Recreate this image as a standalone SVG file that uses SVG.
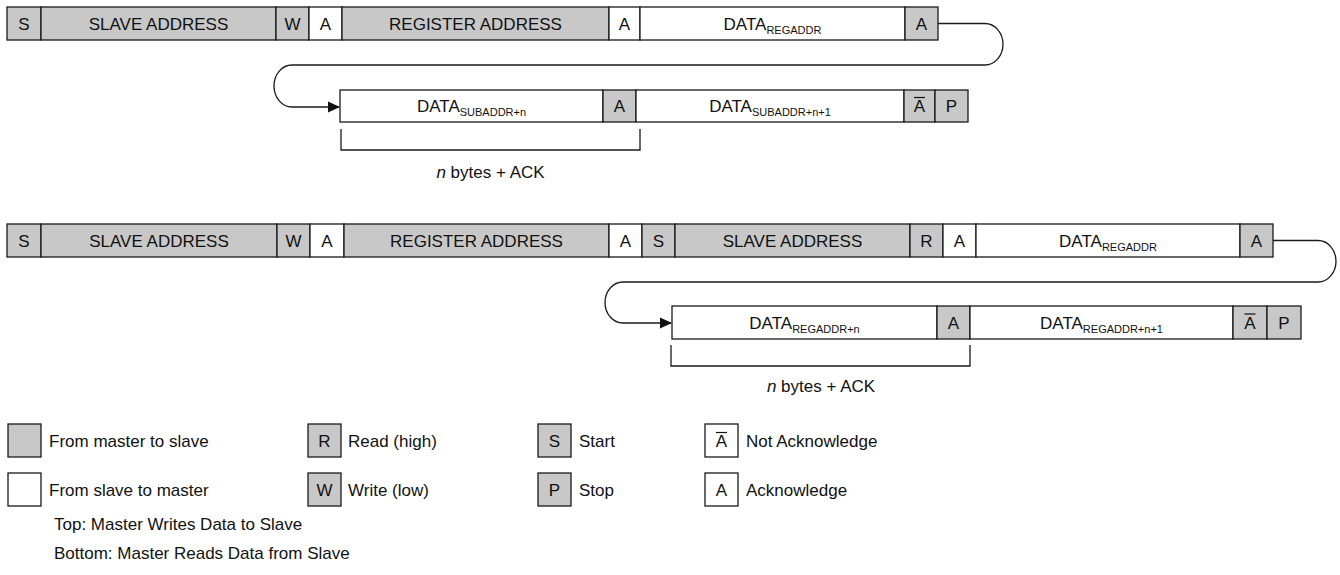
<svg xmlns="http://www.w3.org/2000/svg" width="1340" height="575" viewBox="0 0 1340 575">
<style>
.g{fill:#c8c8c8;stroke:#1a1a1a;stroke-width:1.3}
.w{fill:#ffffff;stroke:#1a1a1a;stroke-width:1.3}
text{font-family:"Liberation Sans",Arial,sans-serif;font-size:17px;fill:#111}
.c{text-anchor:middle}
.sub{font-size:11px}
.ln{fill:none;stroke:#1a1a1a;stroke-width:1.3}
.ov{stroke:#111;stroke-width:1.2}
</style>
<defs>
<marker id="arr" markerWidth="12" markerHeight="12" refX="11" refY="6" orient="auto" markerUnits="userSpaceOnUse">
<path d="M0,0.5 L12,6 L0,11.5 Z" fill="#111"/>
</marker>
</defs>

<g id="connectors">
<path class="ln" d="M938,23.5 H985 A18,20.75 0 0 1 985,65 H292 A18,21 0 0 0 292,107 H339" marker-end="url(#arr)"/>
<path class="ln" d="M1273,240.5 H1318 A18,20.75 0 0 1 1318,282 H623 A18,20.5 0 0 0 623,323 H671" marker-end="url(#arr)"/>
<path class="ln" d="M341,129 V150 H640 V129"/>
<path class="ln" d="M671,345 V366 H970 V345"/>
</g>

<g id="top-row">
<g id="t-s"><rect class="g" x="7" y="7" width="34" height="33"/><text class="c" x="24" y="29.5">S</text></g>
<g id="t-slave"><rect class="g" x="41" y="7" width="235" height="33"/><text class="c" x="158.5" y="29.5">SLAVE ADDRESS</text></g>
<g id="t-w"><rect class="g" x="276" y="7" width="33" height="33"/><text class="c" x="292.5" y="29.5">W</text></g>
<g id="t-a1"><rect class="w" x="309" y="7" width="33" height="33"/><text class="c" x="325.5" y="29.5">A</text></g>
<g id="t-reg"><rect class="g" x="342" y="7" width="267" height="33"/><text class="c" x="475.5" y="29.5">REGISTER ADDRESS</text></g>
<g id="t-a2"><rect class="w" x="609" y="7" width="31" height="33"/><text class="c" x="624.5" y="29.5">A</text></g>
<g id="t-data"><rect class="w" x="640" y="7" width="265" height="33"/><text class="c" x="772.5" y="29.5">DATA<tspan class="sub" dy="4">REGADDR</tspan></text></g>
<g id="t-a3"><rect class="g" x="905" y="7" width="33" height="33"/><text class="c" x="921.5" y="29.5">A</text></g>
</g>

<g id="top-row2">
<g id="t-datan"><rect class="w" x="340" y="90" width="263" height="32"/><text class="c" x="471.5" y="112">DATA<tspan class="sub" dy="4">SUBADDR+n</tspan></text></g>
<g id="t-a4"><rect class="g" x="603" y="90" width="33" height="32"/><text class="c" x="619.5" y="112">A</text></g>
<g id="t-datan1"><rect class="w" x="636" y="90" width="268" height="32"/><text class="c" x="770" y="112">DATA<tspan class="sub" dy="4">SUBADDR+n+1</tspan></text></g>
<g id="t-nack"><rect class="g" x="904" y="90" width="31" height="32"/><text class="c" x="919.5" y="112">A</text><line class="ov" x1="914" y1="97.5" x2="925" y2="97.5"/></g>
<g id="t-p"><rect class="g" x="935" y="90" width="33" height="32"/><text class="c" x="951.5" y="112">P</text></g>
<g id="t-bytes"><text class="c" x="490.5" y="178"><tspan font-style="italic">n</tspan> bytes + ACK</text></g>
</g>

<g id="bottom-row">
<g id="b-s"><rect class="g" x="7" y="224" width="34" height="33"/><text class="c" x="24" y="246.5">S</text></g>
<g id="b-slave"><rect class="g" x="41" y="224" width="236" height="33"/><text class="c" x="159" y="246.5">SLAVE ADDRESS</text></g>
<g id="b-w"><rect class="g" x="277" y="224" width="33" height="33"/><text class="c" x="293.5" y="246.5">W</text></g>
<g id="b-a1"><rect class="w" x="310" y="224" width="34" height="33"/><text class="c" x="327" y="246.5">A</text></g>
<g id="b-reg"><rect class="g" x="344" y="224" width="265" height="33"/><text class="c" x="476.5" y="246.5">REGISTER ADDRESS</text></g>
<g id="b-a2"><rect class="w" x="609" y="224" width="33" height="33"/><text class="c" x="625.5" y="246.5">A</text></g>
<g id="b-s2"><rect class="g" x="642" y="224" width="33" height="33"/><text class="c" x="658.5" y="246.5">S</text></g>
<g id="b-slave2"><rect class="g" x="675" y="224" width="235" height="33"/><text class="c" x="792.5" y="246.5">SLAVE ADDRESS</text></g>
<g id="b-r"><rect class="g" x="910" y="224" width="33" height="33"/><text class="c" x="926.5" y="246.5">R</text></g>
<g id="b-a3"><rect class="w" x="943" y="224" width="33" height="33"/><text class="c" x="959.5" y="246.5">A</text></g>
<g id="b-data"><rect class="w" x="976" y="224" width="264" height="33"/><text class="c" x="1108" y="246.5">DATA<tspan class="sub" dy="4">REGADDR</tspan></text></g>
<g id="b-a4"><rect class="g" x="1240" y="224" width="33" height="33"/><text class="c" x="1256.5" y="246.5">A</text></g>
</g>

<g id="bottom-row2">
<g id="b-datan"><rect class="w" x="672" y="306" width="265" height="33"/><text class="c" x="804.5" y="328.5">DATA<tspan class="sub" dy="4">REGADDR+n</tspan></text></g>
<g id="b-a5"><rect class="g" x="937" y="306" width="33" height="33"/><text class="c" x="953.5" y="328.5">A</text></g>
<g id="b-datan1"><rect class="w" x="970" y="306" width="263" height="33"/><text class="c" x="1101.5" y="328.5">DATA<tspan class="sub" dy="4">REGADDR+n+1</tspan></text></g>
<g id="b-nack"><rect class="g" x="1233" y="306" width="34" height="33"/><text class="c" x="1250" y="328.5">A</text><line class="ov" x1="1244.5" y1="314" x2="1255.5" y2="314"/></g>
<g id="b-p"><rect class="g" x="1267" y="306" width="34" height="33"/><text class="c" x="1284" y="328.5">P</text></g>
<g id="b-bytes"><text class="c" x="821" y="392"><tspan font-style="italic">n</tspan> bytes + ACK</text></g>
</g>

<g id="legend">
<g id="l-m2s"><rect class="g" x="8" y="424" width="33" height="33"/><text x="49" y="447">From master to slave</text></g>
<g id="l-s2m"><rect class="w" x="8" y="473" width="33" height="33"/><text x="49" y="496">From slave to master</text></g>
<g id="l-r"><rect class="g" x="308" y="424" width="33" height="33"/><text class="c" x="324.5" y="447">R</text><text x="348" y="447">Read (high)</text></g>
<g id="l-w"><rect class="g" x="308" y="473" width="33" height="33"/><text class="c" x="324.5" y="496">W</text><text x="348" y="496">Write (low)</text></g>
<g id="l-s"><rect class="g" x="538" y="424" width="33" height="33"/><text class="c" x="554.5" y="447">S</text><text x="579" y="447">Start</text></g>
<g id="l-p"><rect class="g" x="538" y="473" width="33" height="33"/><text class="c" x="554.5" y="496">P</text><text x="579" y="496">Stop</text></g>
<g id="l-nack"><rect class="w" x="705" y="424" width="33" height="33"/><text class="c" x="721.5" y="447">A</text><line class="ov" x1="716" y1="432.5" x2="727" y2="432.5"/><text x="746" y="447">Not Acknowledge</text></g>
<g id="l-ack"><rect class="w" x="705" y="473" width="33" height="33"/><text class="c" x="721.5" y="496">A</text><text x="746" y="496">Acknowledge</text></g>
<g id="l-cap"><text x="54" y="530">Top: Master Writes Data to Slave</text><text x="54" y="559">Bottom: Master Reads Data from Slave</text></g>
</g>
</svg>
